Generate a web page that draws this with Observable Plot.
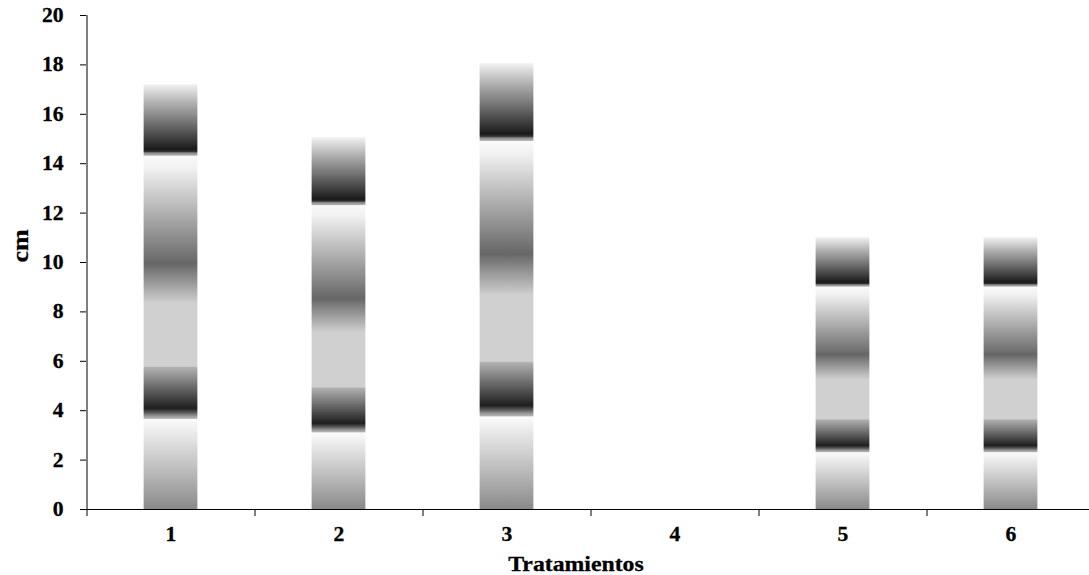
<!DOCTYPE html>
<html><head><meta charset="utf-8">
<script src="https://cdn.jsdelivr.net/npm/d3@7"></script>
<script src="https://cdn.jsdelivr.net/npm/@observablehq/plot@0.6"></script>
<style>
html,body{margin:0;padding:0;background:#fff;}
#chart svg{display:block}
#chart text{stroke:#000;stroke-width:0.3px;paint-order:stroke}
</style></head><body>
<svg width="0" height="0" style="position:absolute">
<defs>
<linearGradient id="gInf" x1="0" y1="0" x2="0" y2="1">
  <stop offset="0" stop-color="#fbfbfb"/>
  <stop offset="0.5" stop-color="#c4c4c4"/>
  <stop offset="1" stop-color="#8a8a8a"/>
</linearGradient>
<linearGradient id="gMed" x1="0" y1="0" x2="0" y2="1">
  <stop offset="0" stop-color="#fafafa"/>
  <stop offset="0.05" stop-color="#f0f0f0"/>
  <stop offset="0.41" stop-color="#676767"/>
  <stop offset="0.56" stop-color="#d0d0d0"/>
  <stop offset="0.80" stop-color="#d0d0d0"/>
  <stop offset="0.805" stop-color="#b0b0b0"/>
  <stop offset="0.88" stop-color="#6a6a6a"/>
  <stop offset="0.96" stop-color="#1f1f1f"/>
  <stop offset="0.975" stop-color="#555555"/>
  <stop offset="0.99" stop-color="#9a9a9a"/>
  <stop offset="1" stop-color="#b8b8b8"/>
</linearGradient>
<linearGradient id="gSup" x1="0" y1="0" x2="0" y2="1">
  <stop offset="0" stop-color="#f2f2f2"/>
  <stop offset="0.29" stop-color="#aaaaaa"/>
  <stop offset="0.52" stop-color="#777777"/>
  <stop offset="0.74" stop-color="#444444"/>
  <stop offset="0.91" stop-color="#1a1a1a"/>
  <stop offset="0.94" stop-color="#333333"/>
  <stop offset="0.96" stop-color="#888888"/>
  <stop offset="1" stop-color="#bbbbbb"/>
</linearGradient>
</defs></svg>
<div id="chart"></div>
<script>
const tratamientos = [1, 2, 3, 4, 5, 6];
const tramoInferior = [3.65, 3.1, 3.75, 0, 2.3, 2.3];
const tramoMedio    = [10.65, 9.2, 11.15, 0, 6.7, 6.7];
const tramoSuperior = [2.9, 2.75, 3.15, 0, 2.0, 2.0];
const yTicks = [0, 2, 4, 6, 8, 10, 12, 14, 16, 18, 20];

const series = [
  {name: "inferior", values: tramoInferior, fill: "url(#gInf)"},
  {name: "medio", values: tramoMedio, fill: "url(#gMed)"},
  {name: "superior", values: tramoSuperior, fill: "url(#gSup)"}
];
const rows = [];
tratamientos.forEach((t, i) => {
  let base = 0;
  series.forEach(s => {
    const v = s.values[i];
    if (v > 0) rows.push({t, serie: s.name, y1: base, y2: base + v});
    base += v;
  });
});
const boundaries = d3.range(tratamientos.length + 1).map(i => i + 0.5);
const half = 0.16;
const font = "'Liberation Serif', 'Times New Roman', Times, serif";

const chart = Plot.plot({
  width: 1089, height: 575,
  marginLeft: 86, marginRight: 0, marginTop: 15, marginBottom: 66,
  style: {fontFamily: font, fontWeight: "bold", fontSize: "20px", color: "#000", background: "#fff"},
  x: {type: "linear", domain: [0.5, 6.5], range: [86.5, 1094.5]},
  y: {domain: [0, 20]},
  color: {type: "ordinal", domain: series.map(s => s.name), range: series.map(s => s.fill)},
  marks: [
    Plot.rectY(rows, {x1: d => d.t - half, x2: d => d.t + half, y1: "y1", y2: "y2", fill: "serie"}),
    Plot.ruleY([0], {stroke: "#000"}),
    Plot.ruleX([0.5], {stroke: "#000"}),
    Plot.axisY({ticks: yTicks, tickSize: 6, tickPadding: 17, label: null, fontSize: 20, fontWeight: "bold"}),
    Plot.axisX({ticks: boundaries, tickSize: 7, tickFormat: () => "", label: null}),
    Plot.axisX({ticks: tratamientos, tickSize: 0, tickPadding: 17, label: null, tickFormat: d => String(d), fontSize: 20, fontWeight: "bold"}),
    Plot.text(["Tratamientos"], {frameAnchor: "bottom", dx: -12, dy: 54, lineAnchor: "middle", fontSize: 22, fontWeight: "bold"}),
    Plot.text(["cm"], {frameAnchor: "left", dx: -66, rotate: -90, lineAnchor: "middle", fontSize: 24, fontWeight: "bold"})
  ]
});
document.getElementById("chart").appendChild(chart);
chart.querySelectorAll("text").forEach(t => {
  const L = t.getComputedTextLength();
  if (L > 0) {
    t.setAttribute("textLength", (L * 1.08).toFixed(1));
    t.setAttribute("lengthAdjust", "spacingAndGlyphs");
  }
});
</script>
</body></html>
